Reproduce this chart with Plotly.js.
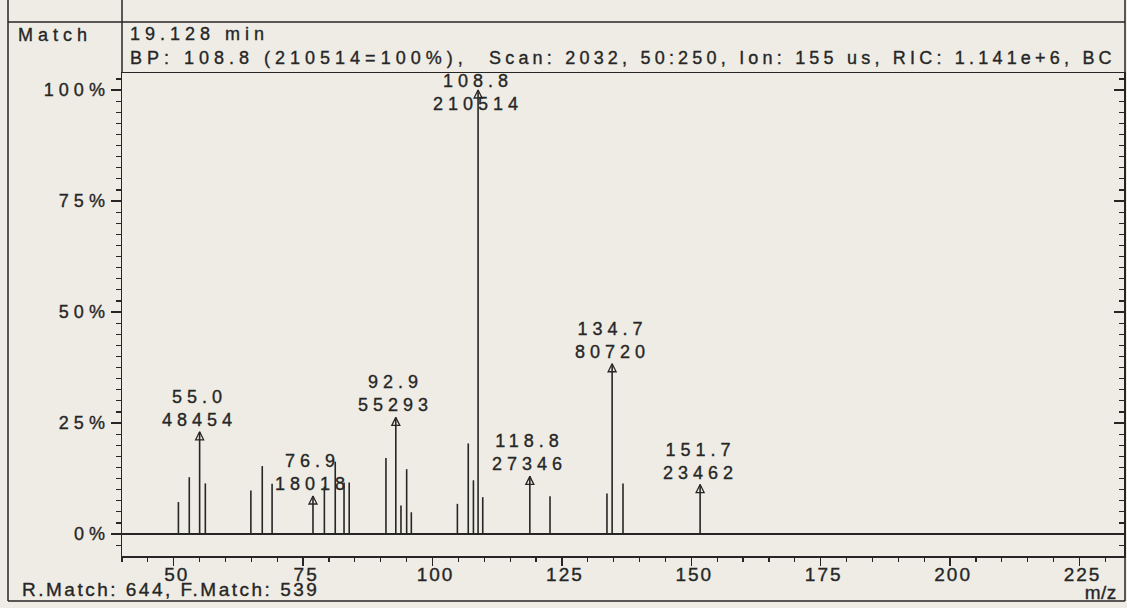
<!DOCTYPE html>
<html>
<head>
<meta charset="utf-8">
<script src="https://cdn.plot.ly/plotly-3.0.1.min.js"></script>
<style>
  html, body { margin: 0; padding: 0; background: #eeece4; }
  #chart { width: 1127px; height: 608px; }
  text { letter-spacing: 5px; stroke: #262626; stroke-width: 0.35px; }
  .xtick text { letter-spacing: 2px; }
  .annotation[data-index="10"] text { letter-spacing: 4.2px; }
  .annotation[data-index="11"] text { letter-spacing: 2.5px; }
  .annotation[data-index="12"] text { letter-spacing: 0.5px; }
</style>
</head>
<body>
<div id="chart"></div>
<script>
// ---- data ----
const basePeakCounts = 210514;
// unlabeled peaks (m/z, relative abundance %)
const peakMz  = [50.9, 53.0, 56.1, 64.9, 67.1, 69.0, 79.1, 81.2, 82.9, 83.9, 91.0, 93.9, 95.0, 95.9, 104.8, 106.9, 107.9, 109.7, 122.7, 133.7, 136.8];
const peakPct = [7.2, 12.8, 11.4, 9.8, 15.3, 11.3, 10.7, 16.3, 11.6, 11.6, 17.1, 6.4, 14.6, 4.9, 6.8, 20.4, 12.1, 8.3, 8.5, 9.1, 11.4];
// labeled peaks (m/z, abundance counts)
const labelMz     = [55.0, 76.9, 92.9, 108.8, 118.8, 134.7, 151.7];
const labelCounts = [48454, 18018, 55293, 210514, 27346, 80720, 23462];
// axis ticks
const yTickVals = [0, 25, 50, 75, 100];
const yTickText = ['0%', '25%', '50%', '75%', '100%'];
const xTickVals = [50, 75, 100, 125, 150, 175, 200, 225];
// header / footer text
const headerLeft = 'Match';
const headerTime = '19.128 min';
const headerBP = 'BP: 108.8 (210514=100%),';
const headerScan = 'Scan: 2032, 50:250, Ion: 155 us, RIC: 1.141e+6, BC';
const footerMatch = 'R.Match: 644, F.Match: 539';
const xUnit = 'm/z';

// ---- build ----
const labelPct = labelCounts.map(c => c / basePeakCounts * 100);
const allMz = peakMz.concat(labelMz);
const allPct = peakPct.concat(labelPct);
const sx = [], sy = [];
allMz.forEach((m, i) => { sx.push(m, m, null); sy.push(0, allPct[i], null); });

const INK = '#262626';
const BG = '#eeece4';
const yRange = [-4.95, 103.83];
const xRange = [40, 233.6];

// plot area geometry (px)
const L = 122, R = 3, T = 73, B = 52, W = 1127, H = 608;
const pw = W - L - R, ph = H - T - B;
const px = v => (v - L) / pw;          // page x px -> paper
const py = v => (H - B - v) / ph;       // page y px -> paper
const pxPerPct = ph / (yRange[1] - yRange[0]);

const traces = [
  { x: sx, y: sy, type: 'scatter', mode: 'lines', line: { color: INK, width: 1.6 }, hoverinfo: 'skip', showlegend: false },
  { x: labelMz, y: labelPct, type: 'scatter', mode: 'markers', yaxis: 'y2',
    marker: { symbol: 'arrow-up-open', size: 8, color: INK, line: { color: INK, width: 1.3 } },
    hoverinfo: 'skip', showlegend: false }
];

const baseFamily = 'Arial, "Liberation Sans", sans-serif';
const labelFont = { family: baseFamily, size: 18, color: INK };
const footFont = { family: baseFamily, size: 19, color: INK };

const annotations = labelMz.map((m, i) => {
  const p = labelPct[i];
  const needPx = 52;
  const clamp = p + needPx / pxPerPct > yRange[1];
  return {
    x: m, y: clamp ? yRange[1] : p, xref: 'x', yref: 'y',
    text: m.toFixed(1) + '<br>' + labelCounts[i],
    showarrow: false, xanchor: 'center', yanchor: clamp ? 'top' : 'bottom',
    yshift: clamp ? 4 : 0,
    font: labelFont
  };
});

annotations.push(
  { xref: 'paper', yref: 'paper', x: px(16), y: py(35), text: headerLeft, showarrow: false, xanchor: 'left', yanchor: 'middle', align: 'left', font: labelFont },
  { xref: 'paper', yref: 'paper', x: px(128), y: py(34), text: headerTime, showarrow: false, xanchor: 'left', yanchor: 'middle', align: 'left', font: labelFont },
  { xref: 'paper', yref: 'paper', x: px(128), y: py(58), text: headerBP, showarrow: false, xanchor: 'left', yanchor: 'middle', align: 'left', font: labelFont },
  { xref: 'paper', yref: 'paper', x: px(1118), y: py(58), text: headerScan, showarrow: false, xanchor: 'right', yanchor: 'middle', align: 'right', font: labelFont },
  { xref: 'paper', yref: 'paper', x: px(20), y: py(589), text: footerMatch, showarrow: false, xanchor: 'left', yanchor: 'middle', align: 'left', font: footFont },
  { xref: 'paper', yref: 'paper', x: px(1101), y: py(592), text: xUnit, showarrow: false, xanchor: 'center', yanchor: 'middle', font: footFont }
);

const ln = { color: INK, width: 1.5 };
const shapes = [
  { type: 'line', xref: 'paper', yref: 'paper', x0: px(8), x1: px(8), y0: py(0), y1: py(601), line: ln },
  { type: 'line', xref: 'paper', yref: 'paper', x0: px(8), x1: px(1125), y0: py(601), y1: py(601), line: ln },
  { type: 'line', xref: 'paper', yref: 'paper', x0: px(1125), x1: px(1125), y0: py(0), y1: py(601), line: ln },
  { type: 'line', xref: 'paper', yref: 'paper', x0: px(8), x1: px(1125), y0: py(22), y1: py(22), line: ln },
  { type: 'line', xref: 'paper', yref: 'paper', x0: px(122), x1: px(122), y0: py(0), y1: py(73), line: ln }
];

const layout = {
  width: W, height: H,
  margin: { l: L, r: R, t: T, b: B, pad: 0 },
  paper_bgcolor: BG, plot_bgcolor: BG,
  showlegend: false,
  font: { family: baseFamily, color: INK },
  xaxis: {
    range: xRange, tickmode: 'array', tickvals: xTickVals,
    ticks: 'outside', ticklen: 8, tickwidth: 1.3, tickcolor: INK,
    minor: { dtick: 5, tick0: 0, ticks: 'outside', ticklen: 4, tickwidth: 1.2, tickcolor: INK, showgrid: false },
    showline: true, linecolor: INK, linewidth: 1.5, mirror: true,
    showgrid: false, zeroline: false, ticklabelstandoff: -7, ticklabelshift: 3,
    tickfont: { family: baseFamily, size: 19, color: INK }
  },
  yaxis: {
    range: yRange, tickmode: 'array', tickvals: yTickVals, ticktext: yTickText,
    ticks: 'outside', ticklen: 10, tickwidth: 1.3, tickcolor: INK,
    minor: { dtick: 2.5, tick0: 0, ticks: 'outside', ticklen: 5, tickwidth: 1.2, tickcolor: INK, showgrid: false },
    showline: true, linecolor: INK, linewidth: 1.5, ticklabelstandoff: -3,
    showgrid: false, zeroline: true, zerolinecolor: INK, zerolinewidth: 1.5,
    tickfont: { family: baseFamily, size: 18, color: INK }
  },
  yaxis2: {
    overlaying: 'y', side: 'right', range: yRange, tickmode: 'array', tickvals: yTickVals,
    showticklabels: false, ticks: 'inside', ticklen: 10, tickwidth: 1.3, tickcolor: INK,
    minor: { dtick: 2.5, tick0: 0, ticks: 'inside', ticklen: 5, tickwidth: 1.2, tickcolor: INK, showgrid: false },
    showline: true, linecolor: INK, linewidth: 1.5, showgrid: false, zeroline: false
  },
  annotations: annotations,
  shapes: shapes
};

Plotly.newPlot('chart', traces, layout, { staticPlot: true, displayModeBar: false });
</script>
</body>
</html>
